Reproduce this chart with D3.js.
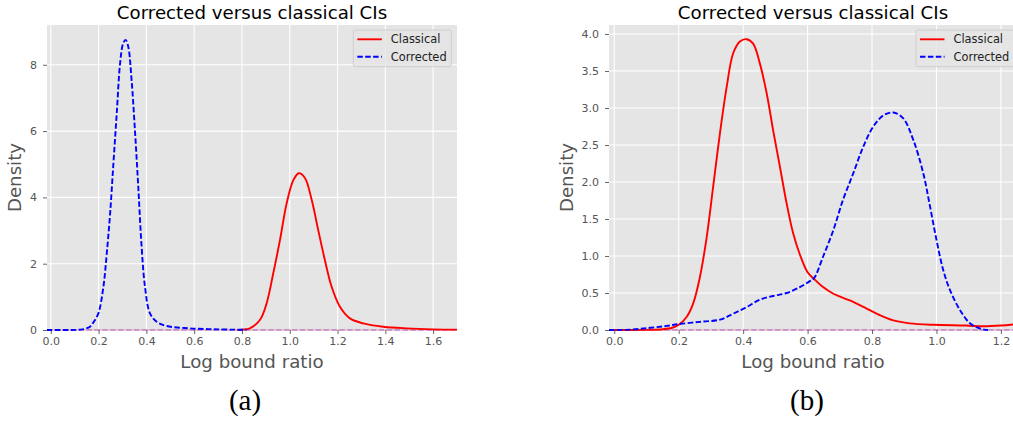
<!DOCTYPE html>
<html>
<head>
<meta charset="utf-8">
<script src="https://cdn.jsdelivr.net/npm/d3@7"></script>
<style>
  body { margin: 0; background: #fff; }
  text { font-family: "DejaVu Sans", sans-serif; }
</style>
</head>
<body>
<svg id="chart" width="1013" height="421"></svg>
<script>
// ---- panel (a) ----
var classicalA_x = [0.78, 0.80, 0.833, 0.875, 0.903, 0.931, 0.959, 0.987, 1.015, 1.038, 1.064, 1.092, 1.119, 1.147, 1.175, 1.21, 1.252, 1.307, 1.391, 1.49, 1.6, 1.7];
var classicalA_y = [0, 0.01, 0.05, 0.3, 0.8, 1.71, 2.71, 3.82, 4.52, 4.73, 4.58, 3.92, 3.02, 2.11, 1.31, 0.7, 0.35, 0.2, 0.1, 0.05, 0.02, 0.01];
var correctedA_x = [-0.016, 0.08, 0.12, 0.14, 0.164, 0.18, 0.199, 0.22, 0.234, 0.248, 0.262, 0.276, 0.29, 0.303, 0.313, 0.324, 0.338, 0.352, 0.366, 0.38, 0.394, 0.415, 0.443, 0.485, 0.58, 0.7, 0.82];
var correctedA_y = [0, 0, 0.01, 0.03, 0.1, 0.25, 0.5, 1.3, 2.3, 3.5, 5.03, 6.54, 8.05, 8.65, 8.75, 8.55, 7.54, 6.03, 4.32, 2.51, 1.31, 0.5, 0.25, 0.12, 0.05, 0.02, 0.005];
var xTicksA = [0, 0.2, 0.4, 0.6, 0.8, 1.0, 1.2, 1.4, 1.6];
var yTicksA = [0, 2, 4, 6, 8];

// ---- panel (b) ----
var classicalB_x = [-0.016, 0.05, 0.1, 0.15, 0.18, 0.2, 0.225, 0.245, 0.266, 0.287, 0.307, 0.328, 0.349, 0.369, 0.39, 0.411, 0.431, 0.452, 0.473, 0.493, 0.514, 0.535, 0.555, 0.576, 0.6, 0.62, 0.648, 0.68, 0.731, 0.783, 0.824, 0.866, 0.917, 0.99, 1.093, 1.145, 1.2, 1.25];
var classicalB_y = [0, 0, 0.002, 0.01, 0.03, 0.07, 0.18, 0.36, 0.72, 1.26, 1.94, 2.66, 3.29, 3.74, 3.9, 3.93, 3.87, 3.6, 3.2, 2.7, 2.21, 1.71, 1.31, 1.02, 0.78, 0.69, 0.58, 0.49, 0.40, 0.29, 0.2, 0.13, 0.09, 0.07, 0.06, 0.05, 0.06, 0.08];
var correctedB_x = [-0.016, 0.05, 0.111, 0.163, 0.2, 0.266, 0.328, 0.369, 0.411, 0.452, 0.493, 0.535, 0.576, 0.607, 0.62, 0.648, 0.68, 0.71, 0.742, 0.773, 0.804, 0.835, 0.866, 0.897, 0.928, 0.959, 0.98, 1.0, 1.021, 1.042, 1.073, 1.104, 1.135, 1.16];
var correctedB_y = [0, 0.005, 0.03, 0.055, 0.08, 0.11, 0.14, 0.22, 0.31, 0.41, 0.46, 0.5, 0.58, 0.66, 0.70, 0.99, 1.35, 1.76, 2.12, 2.48, 2.75, 2.9, 2.94, 2.86, 2.57, 2.12, 1.67, 1.22, 0.81, 0.54, 0.27, 0.09, 0.02, 0];
var xTicksB = [0, 0.2, 0.4, 0.6, 0.8, 1.0, 1.2];
var yTicksB = [0, 0.5, 1.0, 1.5, 2.0, 2.5, 3.0, 3.5, 4.0];

var seriesNames = ["Classical", "Corrected"];
var seriesColors = ["#ff0000", "#0000ff"];
var titleText = "Corrected versus classical CIs";

var svg = d3.select("#chart");

function zip(xs, ys) {
    return xs.map(function (x, i) { return [x, ys[i]]; });
}

function drawPanel(cfg) {
    var x = d3.scaleLinear().domain(cfg.xDomain).range([cfg.left, cfg.right]);
    var y = d3.scaleLinear().domain(cfg.yDomain).range([cfg.bottom, cfg.top]);

    var g = svg.append("g");
    var clipId = "clip_" + cfg.name;
    g.append("clipPath").attr("id", clipId)
        .append("rect")
        .attr("x", cfg.left).attr("y", cfg.top - 2)
        .attr("width", cfg.right - cfg.left).attr("height", cfg.bottom - cfg.top + 4);

    // grey background
    g.append("rect")
        .attr("x", cfg.left).attr("y", cfg.top)
        .attr("width", cfg.right - cfg.left).attr("height", cfg.bottom - cfg.top)
        .attr("fill", "#e5e5e5");

    // grid
    g.selectAll(".vgrid").data(cfg.xTicks).enter().append("line")
        .attr("x1", d => x(d)).attr("x2", d => x(d))
        .attr("y1", cfg.top).attr("y2", cfg.bottom)
        .attr("stroke", "#fff").attr("stroke-width", 1.1);
    g.selectAll(".hgrid").data(cfg.yTicks).enter().append("line")
        .attr("x1", cfg.left).attr("x2", cfg.right)
        .attr("y1", d => y(d)).attr("y2", d => y(d))
        .attr("stroke", "#fff").attr("stroke-width", 1.1);

    // axes (ticks + labels)
    var xAxis = d3.axisBottom(x).tickValues(cfg.xTicks).tickFormat(d3.format(".1f"))
        .tickSize(4).tickPadding(3);
    var gx = g.append("g").attr("transform", "translate(0," + cfg.bottom + ")").call(xAxis);
    var yAxis = d3.axisLeft(y).tickValues(cfg.yTicks).tickFormat(d3.format(cfg.yFmt))
        .tickSize(4).tickPadding(6);
    var gy = g.append("g").attr("transform", "translate(" + cfg.left + ",0)").call(yAxis);
    [gx, gy].forEach(function (a) {
        a.select(".domain").remove();
        a.selectAll("line").attr("stroke", "#555").attr("stroke-width", 0.9);
        a.selectAll("text").attr("fill", "#555").style("font-size", "11px")
            .style("font-family", "'DejaVu Sans', sans-serif");
    });

    var line = d3.line()
        .x(d => x(d[0]))
        .y(d => y(d[1]))
        .curve(d3.curveCatmullRom.alpha(0.5));

    var plot = g.append("g").attr("clip-path", "url(#" + clipId + ")");

    // faint baseline traces at zero
    plot.append("line")
        .attr("x1", cfg.left).attr("x2", cfg.right)
        .attr("y1", y(0)).attr("y2", y(0))
        .attr("stroke", seriesColors[0]).attr("stroke-opacity", 0.2).attr("stroke-width", 2);
    plot.append("line")
        .attr("x1", cfg.left).attr("x2", cfg.right)
        .attr("y1", y(0)).attr("y2", y(0))
        .attr("stroke", seriesColors[1]).attr("stroke-opacity", 0.22).attr("stroke-width", 1.8)
        .attr("stroke-dasharray", "5.5,2.4");

    cfg.series.forEach(function (s, i) {
        plot.append("path")
            .datum(s)
            .attr("fill", "none")
            .attr("stroke", seriesColors[i])
            .attr("stroke-width", 1.9)
            .attr("stroke-dasharray", i == 1 ? "5.5,2.4" : null)
            .attr("d", line);
    });

    // legend
    var lg = g.append("g").attr("transform", "translate(" + cfg.legendX + "," + (cfg.top + 5) + ")");
    lg.append("rect")
        .attr("width", 98).attr("height", 36.7).attr("rx", 2)
        .attr("fill", "#e5e5e5").attr("fill-opacity", 0.85)
        .attr("stroke", "#cccccc").attr("stroke-width", 0.9);
    seriesNames.forEach(function (name, i) {
        var yy = 9.3 + i * 17.5;
        lg.append("line")
            .attr("x1", 4).attr("x2", 28.5)
            .attr("y1", yy).attr("y2", yy)
            .attr("stroke", seriesColors[i]).attr("stroke-width", 1.9)
            .attr("stroke-dasharray", i == 1 ? "5.5,2.4" : null);
        lg.append("text")
            .attr("x", 37.5).attr("y", yy + 4)
            .attr("fill", "#222")
            .style("font-size", "11.4px")
            .text(name);
    });

    // title
    g.append("text")
        .attr("x", (cfg.left + cfg.right) / 2).attr("y", 18.5)
        .attr("text-anchor", "middle")
        .attr("fill", "#000")
        .style("font-size", "18.2px")
        .text(titleText);

    // axis labels
    g.append("text")
        .attr("x", (cfg.left + cfg.right) / 2).attr("y", 368)
        .attr("text-anchor", "middle")
        .attr("fill", "#555")
        .style("font-size", "18.2px")
        .text("Log bound ratio");
    g.append("text")
        .attr("transform", "translate(" + cfg.densityX + "," + ((cfg.top + cfg.bottom) / 2) + ") rotate(-90)")
        .attr("text-anchor", "middle")
        .attr("fill", "#555")
        .style("font-size", "18.2px")
        .text("Density");

    // sub-figure caption
    g.append("text")
        .attr("x", cfg.capX).attr("y", 410)
        .attr("text-anchor", "middle")
        .attr("fill", "#000")
        .style("font-family", "'Liberation Serif', serif")
        .style("font-size", "29px")
        .text(cfg.caption);
}

drawPanel({
    name: "a",
    left: 47, right: 457, top: 25, bottom: 330,
    xDomain: [-0.016, 1.7], yDomain: [0, 9.2],
    xTicks: xTicksA, yTicks: yTicksA, yFmt: "d",
    series: [zip(classicalA_x, classicalA_y), zip(correctedA_x, correctedA_y)],
    legendX: 353.3, densityX: 21, capX: 245, caption: "(a)"
});

drawPanel({
    name: "b",
    left: 609, right: 1017, top: 25, bottom: 330,
    xDomain: [-0.0164, 1.25], yDomain: [0, 4.122],
    xTicks: xTicksB, yTicks: yTicksB, yFmt: ".1f",
    series: [zip(classicalB_x, classicalB_y), zip(correctedB_x, correctedB_y)],
    legendX: 916, densityX: 573, capX: 807, caption: "(b)"
});
</script>
</body>
</html>
